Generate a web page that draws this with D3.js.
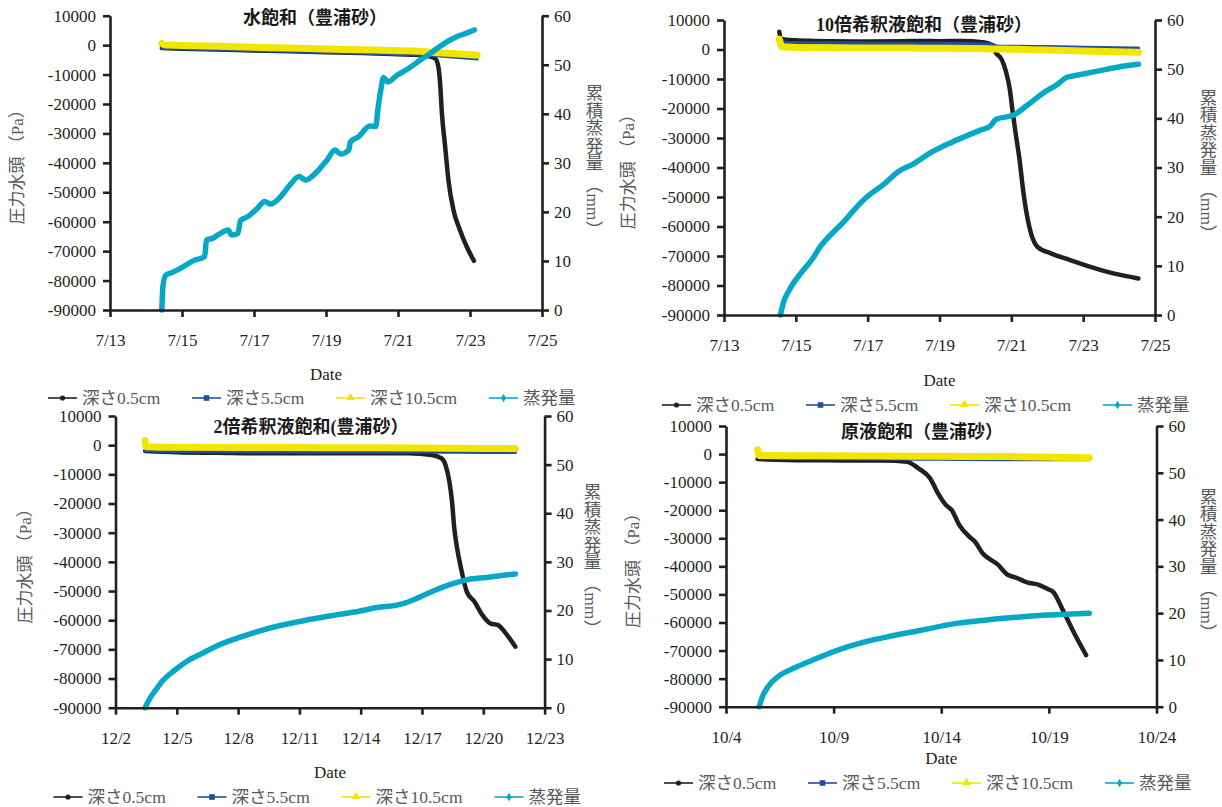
<!DOCTYPE html>
<html>
<head>
<meta charset="utf-8">
<script src="https://cdn.jsdelivr.net/npm/d3@7"></script>
<style>
  html, body { margin: 0; padding: 0; background: #fff; }
  svg { display: block; }
</style>
</head>
<body>
<svg id="chart" width="1222" height="807"></svg>
<script>
// ---- Series: [day, value]; pressure head in Pa, cumulative evaporation in mm ----

// Water-saturated Toyoura sand (July)
const waterD05 = [[14.44,-1000],[15,-1200],[16,-1500],[17,-1800],[18,-2100],[19,-2400],[20,-2700],[21,-3100],[21.7,-3400],
  [22.03,-4500],[22.12,-7300],[22.17,-13000],[22.22,-23200],[22.31,-34500],[22.4,-45800],[22.54,-56000],[22.72,-62800],[22.91,-68500],[23.11,-73300]];
const waterD55 = [[14.44,-1000],[15,-1200],[16,-1500],[17,-1800],[18,-2100],[19,-2400],[20,-2700],[21,-3100],[22,-3500],[22.6,-4000],[23.2,-4600]];
const waterD105 = [[14.44,600],[14.5,100],[15,-100],[16,-400],[17,-700],[18,-1000],[19,-1300],[20,-1600],[21,-1900],[21.6,-2100],[22,-2500],[22.6,-2900],[23.2,-3400]];
const waterEvap = [[14.44,0],[14.47,4.8],[14.55,7.1],[14.71,7.6],[15.03,8.8],[15.36,10.2],[15.52,10.5],[15.63,10.9],[15.68,14.3],[15.84,14.6],
  [16.0,15.3],[16.28,16.3],[16.38,15.3],[16.55,15.6],[16.63,18.3],[16.82,19.0],[17.09,20.7],[17.3,22.1],[17.46,21.6],[17.74,23.1],
  [18.0,25.5],[18.25,27.2],[18.44,26.5],[18.71,27.9],[19.03,30.6],[19.25,32.6],[19.41,31.8],[19.63,32.6],[19.68,34.3],[19.9,35.3],
  [20.22,37.5],[20.38,37.4],[20.44,40.8],[20.53,45.2],[20.6,47.4],[20.71,46.5],[20.98,47.9],[21.3,49.3],[21.63,51.0],[21.95,52.6],
  [22.28,54.3],[22.6,55.6],[22.92,56.5],[23.12,57.1]];

// 10x diluted solution (July)
const dil10D05 = [[14.54,6000],[14.58,3600],[15,3100],[15.5,2900],[16,2800],[17,2700],[18,2800],[18.5,2900],[19,2800],[19.6,2900],[20.25,2400],[20.41,1900],
  [20.58,-1300],[20.74,-3600],[20.85,-7500],[20.96,-13700],[21.03,-20500],[21.12,-28400],[21.23,-37500],[21.34,-48800],[21.5,-60100],[21.72,-66800],
  [22.1,-69100],[22.64,-71400],[23.18,-73600],[23.84,-75900],[24.54,-77600]];
const dil10D55 = [[14.54,4000],[14.6,2500],[15,2300],[16,2200],[17,2100],[18,2000],[19,2000],[20,1900],[20.45,1800],[20.6,1100],[21,1000],[22,900],[23,700],[24.54,400]];
const dil10D105 = [[14.54,3500],[14.62,900],[15,700],[16,600],[17,500],[18,500],[19,400],[20,300],[20.5,200],[21,100],[22,-200],[23,-500],[24.54,-900]];
const dil10Evap = [[14.57,0],[14.65,2.4],[14.82,5.1],[15.14,8.5],[15.47,11.5],[15.68,13.9],[16.01,16.6],[16.34,19.0],[16.66,21.7],[16.99,24.1],
  [17.42,26.4],[17.86,29.2],[18.29,30.8],[18.73,32.9],[19.27,34.9],[19.71,36.3],[20.14,37.6],[20.41,38.4],[20.58,39.8],[21.07,40.7],
  [21.45,42.7],[21.88,45.1],[22.32,47.1],[22.53,48.3],[22.86,48.8],[23.4,49.6],[23.95,50.4],[24.54,51.0]];

// 2x diluted solution (December)
const dil2D05 = [[3.45,-2000],[5,-2400],[7,-2600],[9.67,-2800],[12,-2800],[14,-2800],[16.34,-2800],[17.48,-3400],[17.96,-4500],[18.15,-6800],
  [18.34,-12500],[18.47,-19400],[18.58,-28500],[18.72,-35400],[18.91,-42200],[19.19,-50200],[19.57,-53700],[19.95,-58200],[20.34,-61100],
  [20.72,-61700],[21.1,-64500],[21.57,-69100]];
const dil2D55 = [[3.45,-1800],[5,-2200],[10,-2300],[15,-2300],[20,-2400],[21.57,-2400]];
const dil2D105 = [[3.45,1600],[3.5,-500],[5,-700],[10,-800],[15,-900],[20,-1100],[21.57,-1200]];
const dil2Evap = [[3.45,0],[3.68,1.9],[3.96,3.6],[4.34,5.7],[4.91,7.75],[5.48,9.5],[6.25,11.2],[7.01,12.8],[7.96,14.3],[8.91,15.6],
  [10.05,16.9],[11.2,17.9],[12.53,18.9],[13.86,19.8],[14.81,20.6],[15.77,21.1],[16.15,21.5],[16.91,22.8],[17.67,24.2],[18.43,25.4],
  [19.19,26.3],[20.15,26.8],[20.91,27.2],[21.57,27.5]];

// Stock solution (October)
const stockD05 = [[5.47,-1800],[7.68,-2200],[11.31,-2300],[12.4,-2700],[12.94,-5100],[13.48,-8600],[13.85,-14000],[14.21,-18100],[14.48,-19900],
  [14.84,-25300],[15.3,-29400],[15.57,-31200],[15.93,-35400],[16.29,-37600],[16.57,-39000],[17.11,-43100],[17.47,-44000],[18.02,-45800],
  [18.47,-46400],[18.92,-48000],[19.2,-49100],[19.65,-55600],[20.19,-64000],[20.73,-71600]];
const stockD55 = [[5.47,1000],[5.52,-1200],[8,-1500],[11,-1700],[14,-1800],[17,-1900],[20.88,-1900]];
const stockD105 = [[5.47,1500],[5.55,-500],[8,-600],[11,-700],[14,-800],[17,-900],[20.88,-1300]];
const stockEvap = [[5.54,0],[5.69,2.1],[5.96,4.3],[6.41,6.4],[7.14,8.2],[8.04,10.0],[9.13,12.0],[10.4,13.8],[11.67,15.1],[13.12,16.4],
  [14.57,17.7],[16.02,18.5],[17.47,19.1],[18.92,19.6],[20.0,19.8],[20.88,20.0]];

// ---- Axis ticks ----
const julyTickDays = [13, 15, 17, 19, 21, 23, 25];
const julyTickLabels = ["7/13", "7/15", "7/17", "7/19", "7/21", "7/23", "7/25"];
const decTickDays = [2, 5, 8, 11, 14, 17, 20, 23];
const decTickLabels = ["12/2", "12/5", "12/8", "12/11", "12/14", "12/17", "12/20", "12/23"];
const octTickDays = [4, 9, 14, 19, 24];
const octTickLabels = ["10/4", "10/9", "10/14", "10/19", "10/24"];
const pressureTicks = [10000, 0, -10000, -20000, -30000, -40000, -50000, -60000, -70000, -80000, -90000];
const evapTicks = [0, 10, 20, 30, 40, 50, 60];

const seriesNames = ["深さ0.5cm", "深さ5.5cm", "深さ10.5cm", "蒸発量"];
const panelTitles = ["水飽和（豊浦砂）", "10倍希釈液飽和（豊浦砂）", "2倍希釈液飽和(豊浦砂）", "原液飽和（豊浦砂）"];
const leftAxisTitle = "圧力水頭 （Pa）";
const rightAxisTitle = "累積蒸発量 （mm）";
const xAxisTitle = "Date";

// ---- Styling ----
const colors = ["#231f20", "#1d4f9f", "#f2e500", "#07a8c6"];
const widths = [4.5, 3.5, 7, 5.5];
const ink = "#231f20";
const grey = "#58595b";
const serif = '"Liberation Serif", "Times New Roman", serif';
const mixed = '"Liberation Serif", "Noto Sans CJK JP", serif';

const panels = [
  { title: panelTitles[0], ticks: julyTickDays, labels: julyTickLabels,
    series: [waterD05, waterD55, waterD105, waterEvap],
    l: 110, r: 542, t: 15.7, b: 310, titleX: 315, titleY: 18, lTitleX: 17, rTitleX: 593, dateY: 374, legendY: 398 },
  { title: panelTitles[1], ticks: julyTickDays, labels: julyTickLabels,
    series: [dil10D05, dil10D55, dil10D105, dil10Evap],
    l: 724, r: 1155, t: 20, b: 315, titleX: 924, titleY: 25, lTitleX: 628, rTitleX: 1207, dateY: 380, legendY: 405 },
  { title: panelTitles[2], ticks: decTickDays, labels: decTickLabels,
    series: [dil2D05, dil2D55, dil2D105, dil2Evap],
    l: 115.5, r: 544.6, t: 416, b: 707.7, titleX: 311, titleY: 427, lTitleX: 25, rTitleX: 591, dateY: 772, legendY: 797 },
  { title: panelTitles[3], ticks: octTickDays, labels: octTickLabels,
    series: [stockD05, stockD55, stockD105, stockEvap],
    l: 726, r: 1156.5, t: 426, b: 706.7, titleX: 922, titleY: 432, lTitleX: 633, rTitleX: 1207, dateY: 758, legendY: 783 }
];

const svg = d3.select("#chart");
svg.append("rect").attr("width", 1222).attr("height", 807).attr("fill", "#fff");

function styleAxis(g) {
  g.attr("font-family", serif).attr("font-size", 17);
  g.selectAll("path.domain").attr("stroke", ink).attr("stroke-width", 2.6);
  g.selectAll(".tick line").attr("stroke", ink).attr("stroke-width", 2.6);
  g.selectAll(".tick text").attr("font-family", serif).attr("font-size", 17).attr("fill", ink);
}

function legendMarker(g, i, cx, cy) {
  if (i === 0) {
    g.append("circle").attr("cx", cx).attr("cy", cy).attr("r", 2.6).attr("fill", colors[0]);
  } else if (i === 1) {
    g.append("rect").attr("x", cx - 2.8).attr("y", cy - 2.8).attr("width", 5.6).attr("height", 5.6).attr("fill", colors[1]);
  } else if (i === 2) {
    g.append("path").attr("d", d3.symbol(d3.symbolTriangle, 30)()).attr("transform", `translate(${cx},${cy - 0.5})`).attr("fill", colors[2]);
  } else {
    g.append("path").attr("d", d3.symbol(d3.symbolDiamond, 22)()).attr("transform", `translate(${cx},${cy})`).attr("fill", colors[3]);
  }
}

panels.forEach(p => {
  const g = svg.append("g");
  const x = d3.scaleLinear().domain(d3.extent(p.ticks)).range([p.l, p.r]);
  const yL = d3.scaleLinear().domain(d3.extent(pressureTicks)).range([p.b, p.t]);
  const yR = d3.scaleLinear().domain(d3.extent(evapTicks)).range([p.b, p.t]);

  // data lines: three pressure sensors on the left scale, evaporation on the right scale
  p.series.forEach((data, i) => {
    const y = i === 3 ? yR : yL;
    const line = d3.line().x(d => x(d[0])).y(d => y(d[1])).curve(d3.curveMonotoneX);
    g.append("path").datum(data).attr("d", line)
      .attr("fill", "none").attr("stroke", colors[i]).attr("stroke-width", widths[i])
      .attr("stroke-linejoin", "round").attr("stroke-linecap", "round");
  });

  // axes
  const ax = g.append("g").attr("transform", `translate(0,${p.b})`)
    .call(d3.axisBottom(x).tickValues(p.ticks).tickFormat((d, i) => p.labels[i]).tickSize(7).tickSizeOuter(0).tickPadding(17));
  const ayL = g.append("g").attr("transform", `translate(${p.l},0)`)
    .call(d3.axisLeft(yL).tickValues(pressureTicks).tickFormat(d => String(d)).tickSize(7).tickSizeOuter(0).tickPadding(7));
  const ayR = g.append("g").attr("transform", `translate(${p.r},0)`)
    .call(d3.axisRight(yR).tickValues(evapTicks).tickFormat(d => String(d)).tickSize(7).tickSizeOuter(0).tickPadding(5));
  [ax, ayL, ayR].forEach(styleAxis);

  // titles
  g.append("text").attr("x", p.titleX).attr("y", p.titleY).attr("text-anchor", "middle").attr("dominant-baseline", "central")
    .attr("font-family", mixed).attr("font-weight", "bold").attr("font-size", 18).attr("fill", "#1a1a1a").text(p.title);

  const midY = (p.t + p.b) / 2;
  g.append("text").attr("transform", `translate(${p.lTitleX},${midY}) rotate(-90)`)
    .attr("text-anchor", "middle").attr("dominant-baseline", "central")
    .attr("font-family", mixed).attr("font-size", 17).attr("fill", grey).text(leftAxisTitle);

  g.append("text").attr("x", p.rTitleX).attr("y", midY - 2)
    .attr("text-anchor", "middle").style("writing-mode", "vertical-rl")
    .attr("font-family", mixed).attr("font-size", 17.5).attr("fill", grey).text(rightAxisTitle);

  g.append("text").attr("x", (p.l + p.r) / 2).attr("y", p.dateY).attr("text-anchor", "middle").attr("dominant-baseline", "central")
    .attr("font-family", serif).attr("font-size", 17).attr("fill", ink).text(xAxisTitle);

  // legend
  const offsets = [-62, 82, 226, 379];
  seriesNames.forEach((name, i) => {
    const x0 = p.l + offsets[i];
    const lg = g.append("g");
    lg.append("line").attr("x1", x0).attr("x2", x0 + 29).attr("y1", p.legendY).attr("y2", p.legendY)
      .attr("stroke", colors[i]).attr("stroke-width", 1.6);
    legendMarker(lg, i, x0 + 14.5, p.legendY);
    lg.append("text").attr("x", x0 + 34).attr("y", p.legendY).attr("dominant-baseline", "central")
      .attr("font-family", mixed).attr("font-size", 17.5).attr("fill", grey).text(name);
  });
});
</script>
</body>
</html>
